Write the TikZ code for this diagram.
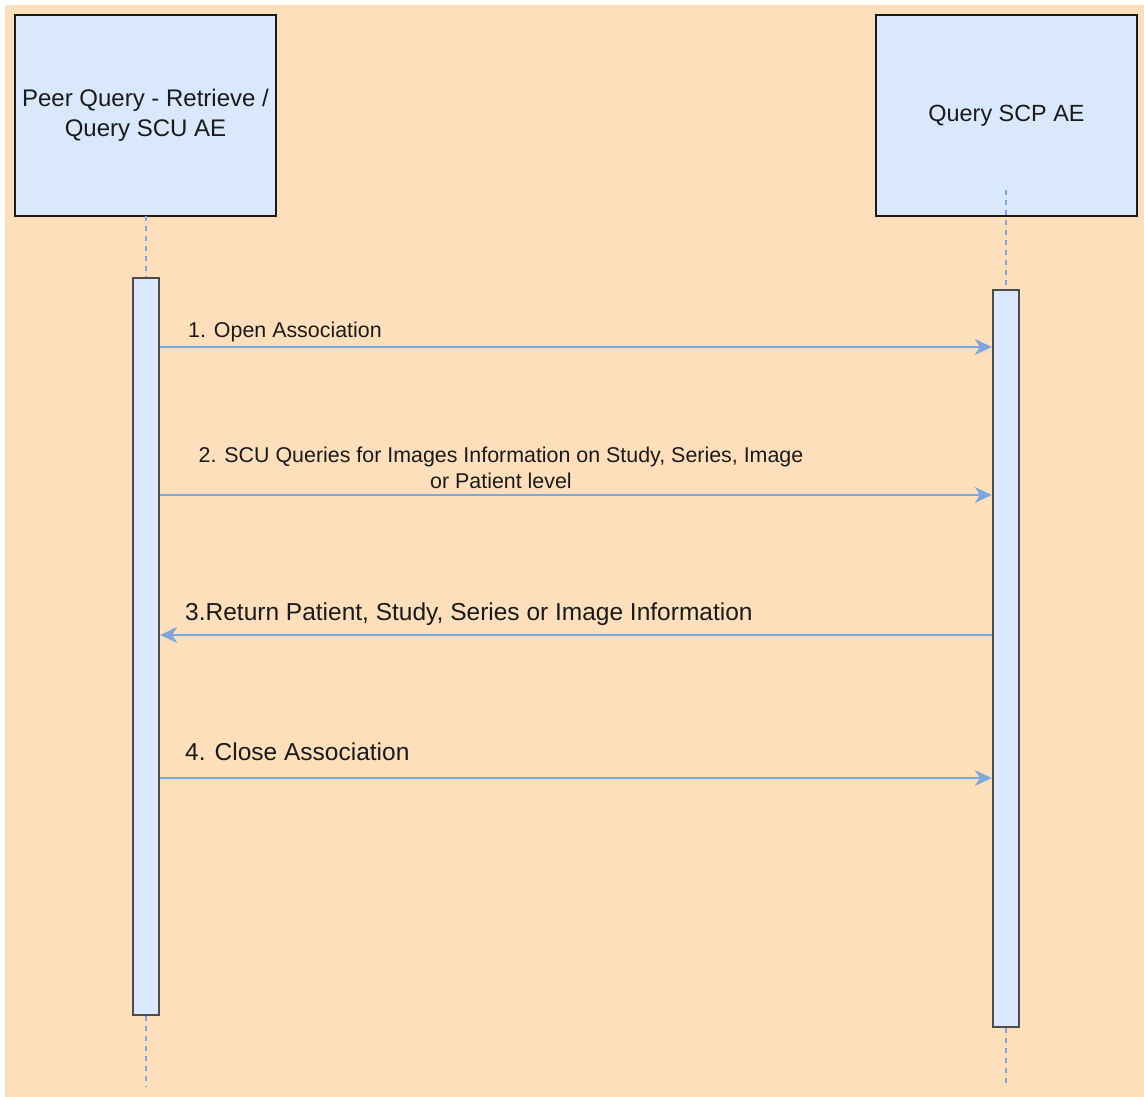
\documentclass[tikz,border=0pt]{standalone}
\usepackage{fontspec}
\setmainfont{Liberation Sans}
\usetikzlibrary{arrows.meta}
\definecolor{peach}{HTML}{FDDFBC}
\definecolor{boxfill}{HTML}{DAE8FC}
\definecolor{msgblue}{HTML}{7EA6E0}
\definecolor{ink}{HTML}{1A1A1A}
\begin{document}
\begin{tikzpicture}[x=1pt,y=-1pt,
  actor/.style={draw=ink, line width=2, fill=boxfill, minimum width=261, minimum height=201,
    inner sep=0, align=center, text=ink},
  actbar/.style={draw=black!70, line width=2.4, fill=boxfill, minimum width=26, inner sep=0},
  lifeline/.style={draw=msgblue, line width=1.6, dash pattern=on 5 off 5},
  msg/.style={draw=msgblue, line width=1.8, -{Stealth[length=17, width=16, inset=5]}},
  smalllabel/.style={text=ink, inner sep=0, font=\fontsize{21.4}{26}\selectfont, align=center},
  biglabel/.style={text=ink, inner sep=0, font=\fontsize{24.5}{28}\selectfont}
]
\useasboundingbox (0,0) rectangle (1144,1097);
\fill[peach] (5,5) rectangle (1144,1097);

% participants
\node[actor, font=\fontsize{24}{30}\selectfont] (scu) at (145.5,115.5) {Peer Query - Retrieve /\\Query SCU AE};
\node[actor, font=\fontsize{23.4}{30}\selectfont] (scp) at (1006.5,115.5) {Query SCP AE};

% lifeline end points
\coordinate (scutop) at (146,216);
\coordinate (scuend) at (146,1087);
\coordinate (scptop) at (1006,190);
\coordinate (scpend) at (1006,1087);

% activation bars
\node[actbar, minimum height=737] (scubar) at (146,646.5) {};
\node[actbar, minimum height=737] (scpbar) at (1006,658.5) {};

% dashed lifelines
\draw[lifeline] (scutop) -- (scubar.north);
\draw[lifeline] (scubar.south) -- (scuend);
\draw[lifeline] (scptop) -- (scpbar.north);
\draw[lifeline] (scpbar.south) -- (scpend);

% messages
\draw[msg] (scubar.east |- 0,347) -- (scpbar.west |- 0,347);
\draw[msg] (scubar.east |- 0,495) -- (scpbar.west |- 0,495);
\draw[msg] (scpbar.west |- 0,635) -- (scubar.east |- 0,635);
\draw[msg] (scubar.east |- 0,778) -- (scpbar.west |- 0,778);

% message labels
\node[smalllabel, anchor=west] (m1) at (188,332) {1. Open Association};
\node[smalllabel] (m2) at (501,468) {2. SCU Queries for Images Information on Study, Series, Image\\or Patient level};
\node[biglabel, anchor=west] (m3) at (185,614) {3.Return Patient, Study, Series or Image Information};
\node[biglabel, anchor=west] (m4) at (185,752) {4. Close Association};
\end{tikzpicture}
\end{document}
